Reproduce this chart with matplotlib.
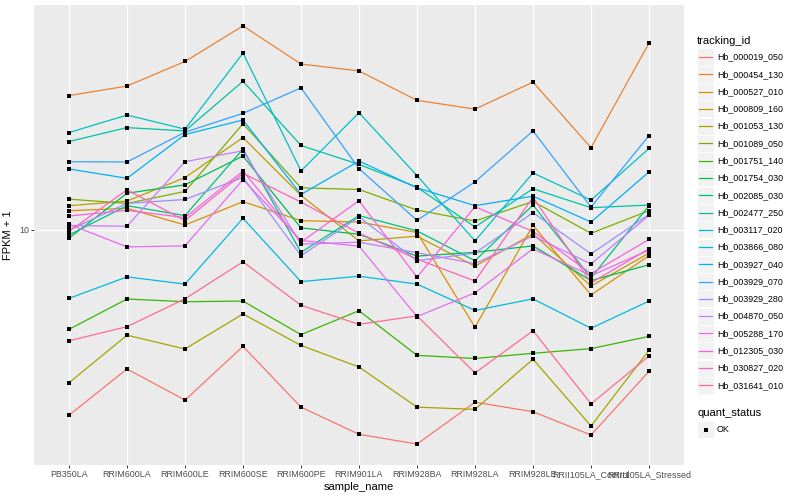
import matplotlib
matplotlib.use("Agg")
import matplotlib.pyplot as plt
from matplotlib.patches import Rectangle
from matplotlib.lines import Line2D
import numpy as np

plt.rcParams['font.family'] = ['Liberation Sans', 'DejaVu Sans']

samples = ["PB350LA", "RRIM600LA", "RRIM600LE", "RRIM600SE", "RRIM600PE", "RRIM901LA",
           "RRIM928BA", "RRIM928LA", "RRIM928LE", "RRII105LA_Control", "RRII105LA_Stressed"]

tracking_ids = ["Hb_000019_050", "Hb_000454_130", "Hb_000527_010", "Hb_000809_160",
                "Hb_001053_130", "Hb_001089_050", "Hb_001751_140", "Hb_001754_030",
                "Hb_002085_030", "Hb_002477_250", "Hb_003117_020", "Hb_003866_080",
                "Hb_003927_040", "Hb_003929_070", "Hb_003929_280", "Hb_004870_050",
                "Hb_005288_170", "Hb_012305_030", "Hb_030827_020", "Hb_031641_010"]

# FPKM + 1 per sample
hb_000019_050 = [1.79, 2.75, 2.06, 3.39, 1.93, 1.50, 1.37, 2.02, 1.85, 1.49, 2.69]
hb_000454_130 = [34.7, 37.9, 47.6, 66.2, 46.5, 43.6, 33.2, 30.6, 39.3, 21.4, 56.4]
hb_000527_010 = [11.93, 12.19, 10.45, 12.97, 10.88, 10.74, 9.75, 4.05, 10.42, 5.46, 7.86]
hb_000809_160 = [12.5, 13.04, 16.22, 23.51, 13.74, 9.02, 9.42, 7.13, 9.62, 5.93, 8.05]
hb_001053_130 = [2.42, 3.76, 3.31, 4.58, 3.42, 2.8, 1.93, 1.89, 3.01, 1.62, 3.27]
hb_001089_050 = [13.28, 12.76, 14.26, 26.74, 14.75, 14.52, 12.0, 10.84, 13.0, 9.68, 11.93]
hb_001751_140 = [3.97, 5.26, 5.13, 5.16, 3.78, 4.72, 3.12, 3.03, 3.18, 3.32, 3.72]
hb_001754_030 = [9.25, 14.03, 15.16, 19.81, 10.17, 9.59, 7.83, 8.11, 8.61, 6.24, 7.23]
hb_002085_030 = [9.53, 12.5, 11.4, 21.13, 8.11, 11.4, 9.89, 7.5, 12.57, 6.4, 12.5]
hb_002477_250 = [22.66, 25.78, 25.0, 39.63, 21.84, 18.33, 14.83, 10.26, 14.62, 12.27, 12.57]
hb_003117_020 = [24.62, 28.97, 25.4, 51.43, 17.25, 29.59, 16.52, 9.02, 16.94, 13.16, 21.24]
hb_003866_080 = [5.29, 6.46, 6.04, 11.12, 6.18, 6.5, 6.04, 4.73, 5.27, 4.01, 5.16]
hb_003927_040 = [17.57, 16.11, 24.17, 27.67, 13.87, 18.91, 14.75, 12.5, 13.65, 10.74, 17.09]
hb_003929_070 = [18.79, 18.74, 24.71, 29.43, 37.26, 17.62, 10.91, 15.59, 25.0, 12.34, 23.94]
hb_003929_280 = [9.98, 12.76, 13.24, 16.26, 7.86, 11.25, 7.5, 8.05, 11.72, 8.0, 11.53]
hb_004870_050 = [10.39, 10.33, 18.79, 20.8, 8.75, 8.91, 8.08, 7.3, 9.44, 7.28, 11.43]
hb_005288_170 = [10.52, 8.53, 8.61, 15.92, 9.05, 8.59, 4.47, 5.57, 8.38, 6.53, 8.28]
hb_012305_030 = [11.36, 11.97, 11.19, 17.25, 8.91, 13.09, 6.44, 12.38, 9.84, 6.66, 9.14]
hb_030827_020 = [9.84, 14.48, 10.88, 16.87, 12.92, 9.68, 7.62, 6.21, 13.53, 6.11, 8.38]
hb_031641_010 = [3.57, 4.07, 5.27, 7.43, 4.96, 4.16, 4.5, 2.65, 3.92, 1.99, 3.1]

series = [hb_000019_050, hb_000454_130, hb_000527_010, hb_000809_160, hb_001053_130,
          hb_001089_050, hb_001751_140, hb_001754_030, hb_002085_030, hb_002477_250,
          hb_003117_020, hb_003866_080, hb_003927_040, hb_003929_070, hb_003929_280,
          hb_004870_050, hb_005288_170, hb_012305_030, hb_030827_020, hb_031641_010]

colors = ["#F8766D", "#EA8331", "#D89000", "#C09B00", "#A3A500", "#7CAE00", "#39B600",
          "#00BB4E", "#00BF7D", "#00C1A3", "#00BFC4", "#00BAE0", "#00B0F6", "#35A2FF",
          "#9590FF", "#C77CFF", "#E76BF3", "#FA62DB", "#FF62BC", "#FF6C91"]

W, H = 800, 500
fig = plt.figure(figsize=(8, 5), dpi=100)
fig.patch.set_facecolor("white")
ax = fig.add_axes([34.2 / W, 1 - 465 / H, (683.8 - 34.2) / W, (465 - 5) / H])
ax.set_facecolor("#EBEBEB")

x = np.arange(len(samples))
for vals, c in zip(series, colors):
    ax.plot(x, vals, color=c, lw=0.9, zorder=3, solid_capstyle="butt")
for vals in series:
    ax.plot(x, vals, ls="none", marker="s", ms=2.8, mew=0, color="black", zorder=4)

ax.set_yscale("log")
allv = np.log10(np.concatenate([np.array(s) for s in series]))
lo, hi = allv.min(), allv.max()
pad = 0.05 * (hi - lo)
ax.set_ylim(10 ** (lo - pad), 10 ** (hi + pad))
ax.set_xlim(-0.6, len(samples) - 0.4)

ax.set_yticks([10])
ax.set_yticklabels(["10"])
ax.yaxis.set_minor_locator(matplotlib.ticker.NullLocator())
ax.set_xticks(x)
ax.set_xticklabels(samples)

for s in ax.spines.values():
    s.set_visible(False)
ax.grid(True, which="major", color="white", lw=1.0, zorder=1)
ax.set_axisbelow(True)
ax.tick_params(axis="both", length=2.0, width=0.7, color="#333333",
               labelcolor="#4D4D4D", labelsize=6.4, pad=1.5)

ax.set_xlabel("sample_name", fontsize=8, color="black", labelpad=2)
ax.set_ylabel("FPKM + 1", fontsize=8, color="black")
ax.yaxis.set_label_coords((13 - 34.2) / 649.6, 0.5)

# legends (ggplot-like keys)
def fx(px):
    return px / W

def fy(py):
    return 1 - py / H

key_w, key_h = 17.0, 17.0
key_x0 = 697.0
fig.text(fx(697), fy(40.5), "tracking_id", fontsize=8, va="center", ha="left")
for i, (name, c) in enumerate(zip(tracking_ids, colors)):
    cy = 57.0 + i * 17.28
    fig.patches.append(Rectangle((fx(key_x0), fy(cy + key_h / 2)), key_w / W, key_h / H,
                                 transform=fig.transFigure, facecolor="#F2F2F2",
                                 edgecolor="white", lw=0.6))
    fig.lines.append(Line2D([fx(key_x0 + 1.7), fx(key_x0 + key_w - 1.7)], [fy(cy), fy(cy)],
                            transform=fig.transFigure, color=c, lw=0.9))
    fig.text(fx(717), fy(cy), name, fontsize=6.4, va="center", ha="left")

fig.text(fx(697), fy(412.5), "quant_status", fontsize=8, va="center", ha="left")
cy = 429.5
fig.patches.append(Rectangle((fx(key_x0), fy(cy + key_h / 2)), key_w / W, key_h / H,
                             transform=fig.transFigure, facecolor="#F2F2F2",
                             edgecolor="white", lw=0.6))
fig.lines.append(Line2D([fx(key_x0 + key_w / 2)], [fy(cy)], transform=fig.transFigure,
                        ls="none", marker="s", ms=2.5, mew=0, color="black"))
fig.text(fx(717), fy(cy), "OK", fontsize=6.4, va="center", ha="left")

fig.savefig("out.png", dpi=100)
